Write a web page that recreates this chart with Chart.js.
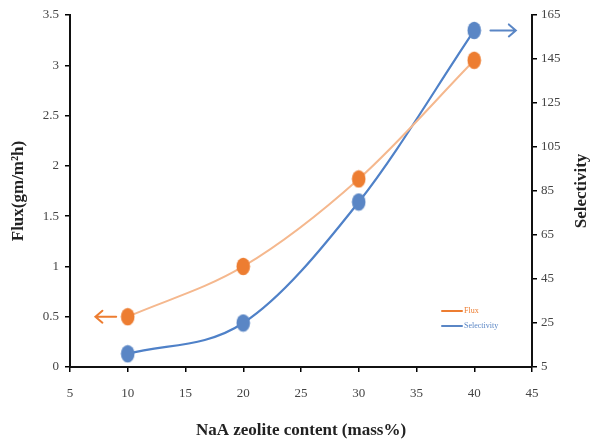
<!DOCTYPE html>
<html>
<head>
<meta charset="utf-8">
<script src="https://cdn.jsdelivr.net/npm/chart.js@4.4.0/dist/chart.umd.min.js"></script>
<style>
  html, body { margin: 0; padding: 0; background: #fff; }
  #wrap { width: 596px; height: 445px; }
</style>
</head>
<body>
<div id="wrap"><canvas id="c" width="596" height="445"></canvas></div>
<script>
// NaA zeolite content (mass%)
const zeoliteContent = [10, 20, 30, 40];
// Flux (gm/m2h), left axis
const fluxValues = [0.5, 1.0, 1.87, 3.05];
// Selectivity, right axis
const selectivityValues = [11, 25, 80, 158];

const ORANGE = '#ED7D31';
const ORANGE_LINE = '#F5B88E';
const BLUE = '#5A86C5';
const BLUE_LINE = '#4F81C8';
const SERIF = '"Liberation Serif", "DejaVu Serif", serif';

// oval marker used by both series
function ovalMarker(color) {
  const cv = document.createElement('canvas');
  cv.width = 15; cv.height = 19;
  const g = cv.getContext('2d');
  g.fillStyle = color;
  g.beginPath();
  g.ellipse(7.5, 9.5, 6.8, 8.8, 0, 0, Math.PI * 2);
  g.fill();
  return cv;
}

function toPoints(xs, ys) { return xs.map((x, i) => ({ x: x, y: ys[i] })); }

// side arrows, in-plot legend and the right axis title (reads bottom to top)
const decorations = {
  id: 'decorations',
  afterDraw(chart) {
    const { ctx, scales, chartArea } = chart;
    const x = scales.x, yL = scales.yFlux, yR = scales.ySel;
    ctx.save();
    ctx.lineWidth = 2;
    ctx.lineCap = 'round';

    // arrow pointing to the flux axis
    let ay = yL.getPixelForValue(fluxValues[0]);
    let x0 = x.getPixelForValue(7.2), x1 = x.getPixelForValue(9.0);
    ctx.strokeStyle = ORANGE;
    ctx.beginPath();
    ctx.moveTo(x1, ay); ctx.lineTo(x0, ay);
    ctx.moveTo(x0 + 7, ay - 6); ctx.lineTo(x0, ay); ctx.lineTo(x0 + 7, ay + 6);
    ctx.stroke();

    // arrow pointing to the selectivity axis
    ay = yR.getPixelForValue(selectivityValues[3]);
    x0 = x.getPixelForValue(41.4); x1 = x.getPixelForValue(43.6);
    ctx.strokeStyle = BLUE;
    ctx.beginPath();
    ctx.moveTo(x0, ay); ctx.lineTo(x1, ay);
    ctx.moveTo(x1 - 7, ay - 6); ctx.lineTo(x1, ay); ctx.lineTo(x1 - 7, ay + 6);
    ctx.stroke();

    // legend
    const lx = chartArea.right - 90;
    const ly = chartArea.bottom - 56;
    ctx.font = '8px ' + SERIF;
    ctx.textBaseline = 'middle';
    ctx.textAlign = 'left';
    ctx.lineWidth = 2;
    ctx.strokeStyle = ORANGE;
    ctx.beginPath(); ctx.moveTo(lx, ly); ctx.lineTo(lx + 20, ly); ctx.stroke();
    ctx.fillStyle = ORANGE;
    ctx.fillText('Flux', lx + 22, ly);
    ctx.strokeStyle = BLUE;
    ctx.beginPath(); ctx.moveTo(lx, ly + 15); ctx.lineTo(lx + 20, ly + 15); ctx.stroke();
    ctx.fillStyle = BLUE;
    ctx.fillText('Selectivity', lx + 22, ly + 15);

    // right axis title
    ctx.translate(yR.right - 14, (chartArea.top + chartArea.bottom) / 2);
    ctx.rotate(-Math.PI / 2);
    ctx.font = 'bold 17px ' + SERIF;
    ctx.fillStyle = '#222';
    ctx.textAlign = 'center';
    ctx.fillText('Selectivity', 0, 0);
    ctx.restore();
  }
};

const tickFont = { family: SERIF, size: 13 };
const titleFont = { family: SERIF, size: 17, weight: 'bold' };
const plainNumber = (v) => String(v);

new Chart(document.getElementById('c'), {
  type: 'line',
  data: {
    datasets: [
      {
        label: 'Flux',
        data: toPoints(zeoliteContent, fluxValues),
        yAxisID: 'yFlux',
        borderColor: ORANGE_LINE,
        borderWidth: 2,
        tension: 0.4,
        cubicInterpolationMode: 'monotone',
        pointStyle: ovalMarker(ORANGE),
        pointRadius: 8,
        fill: false
      },
      {
        label: 'Selectivity',
        data: toPoints(zeoliteContent, selectivityValues),
        yAxisID: 'ySel',
        borderColor: BLUE_LINE,
        borderWidth: 2.2,
        tension: 0.4,
        cubicInterpolationMode: 'monotone',
        pointStyle: ovalMarker(BLUE),
        pointRadius: 8,
        fill: false
      }
    ]
  },
  options: {
    responsive: false,
    animation: false,
    layout: { padding: { top: 15, left: 0, right: 0, bottom: 0 } },
    plugins: { legend: { display: false }, tooltip: { enabled: false } },
    scales: {
      x: {
        type: 'linear',
        min: 5, max: 45,
        ticks: { stepSize: 5, color: '#444', font: tickFont, padding: 14, callback: plainNumber },
        grid: { drawOnChartArea: false, drawTicks: true, tickLength: 5, color: '#000', lineWidth: 1.5 },
        border: { display: true, color: '#111', width: 2 },
        title: { display: true, text: 'NaA zeolite content (mass%)', color: '#222', font: titleFont, padding: { top: 6 } },
        afterFit(s) { s.height = 78; }
      },
      yFlux: {
        type: 'linear',
        position: 'left',
        min: 0, max: 3.5,
        ticks: { stepSize: 0.5, color: '#444', font: tickFont, padding: 6, callback: plainNumber },
        grid: { drawOnChartArea: false, drawTicks: true, tickLength: 5, color: '#000', lineWidth: 1.5 },
        border: { display: true, color: '#111', width: 2 },
        title: { display: true, text: 'Flux(gm/m\u00B2h)', color: '#222', font: titleFont, padding: { top: 8, bottom: 4 } },
        afterFit(s) { s.width = 70; }
      },
      ySel: {
        type: 'linear',
        position: 'right',
        min: 5, max: 165,
        ticks: { stepSize: 20, color: '#444', font: tickFont, padding: 4, callback: plainNumber },
        grid: { drawOnChartArea: false, drawTicks: true, tickLength: 5, color: '#000', lineWidth: 1.5 },
        border: { display: true, color: '#111', width: 2 },
        afterFit(s) { s.width = 64; }
      }
    }
  },
  plugins: [decorations]
});
</script>
</body>
</html>
